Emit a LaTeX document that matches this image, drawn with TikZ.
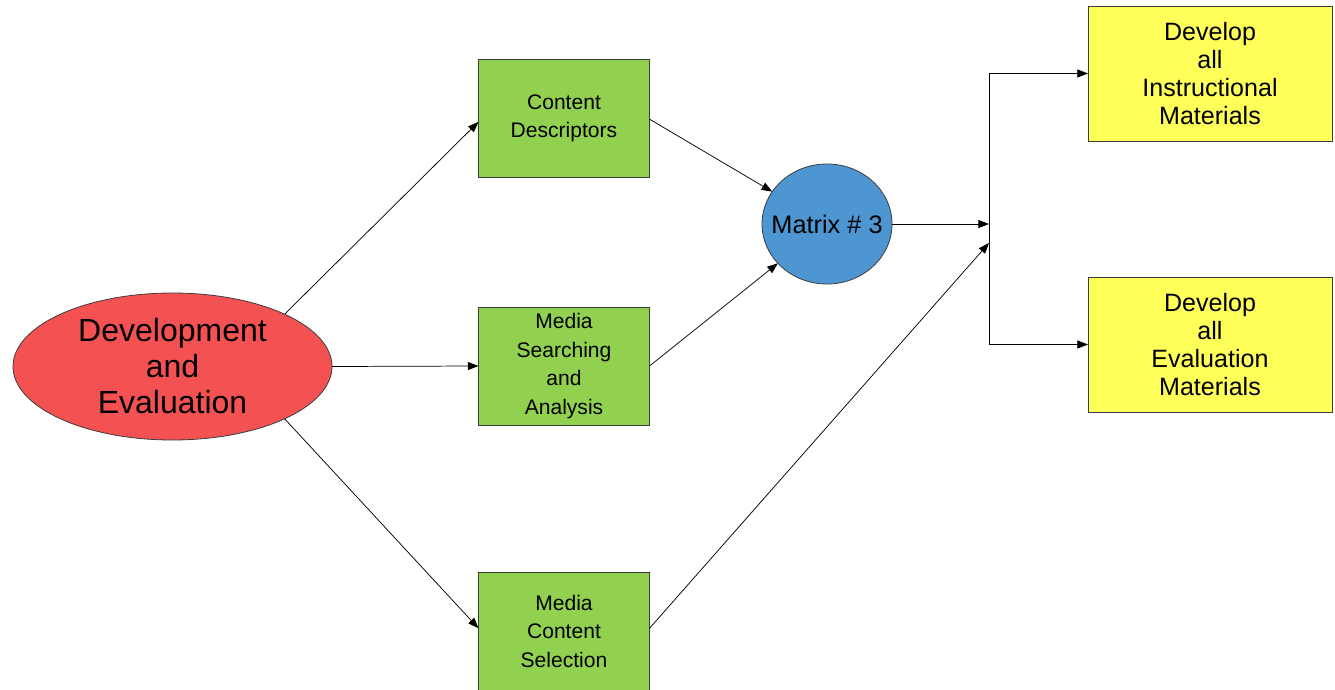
\documentclass[tikz,border=0pt]{standalone}
\usepackage{fontspec}
\setmainfont{Liberation Sans}
\usetikzlibrary{shapes.geometric,arrows.meta}
\definecolor{redfill}{RGB}{244,82,82}
\definecolor{greenfill}{RGB}{146,208,80}
\definecolor{bluefill}{RGB}{78,150,210}
\definecolor{yellowfill}{RGB}{255,255,90}
\definecolor{edgegray}{RGB}{60,60,60}
\begin{document}
\begin{tikzpicture}[x=0.75pt,y=-0.75pt,
  greenbox/.style={rectangle,draw=edgegray,line width=0.6pt,fill=greenfill,
    minimum width=128.25pt,minimum height=88.5pt,inner sep=0pt,outer sep=0pt,
    align=center,font=\fontsize{15.8}{21.4}\selectfont},
  yellowbox/.style={rectangle,draw=edgegray,line width=0.6pt,fill=yellowfill,
    minimum width=183pt,minimum height=101.25pt,inner sep=0pt,outer sep=0pt,
    align=center,font=\fontsize{18.8}{21}\selectfont},
  conn/.style={draw=black,line width=0.55pt},
  arr/.style={conn,-{Triangle[length=8pt,width=6pt]}}]
\useasboundingbox (0,0) rectangle (1335,689);
\fill[white] (0,0) rectangle (1335,689);
% nodes
\node[ellipse,draw=edgegray,line width=0.6pt,fill=redfill,minimum width=239.25pt,
  minimum height=110.25pt,inner sep=0pt,outer sep=0pt] (dev) at (172.5,366.5) {};
\node[align=center,font=\fontsize{24}{27}\selectfont] (devtext) at (dev) {Development\\and\\Evaluation};
\node[greenbox] (cd) at (564,118.5) {Content\\Descriptors};
\node[greenbox] (msa) at (564,366) {Media\\Searching\\and\\Analysis};
\node[greenbox] (mcs) at (564,631) {Media\\Content\\Selection};
\node[ellipse,draw=edgegray,line width=0.6pt,fill=bluefill,minimum width=97.5pt,
  minimum height=90pt,inner sep=0pt,outer sep=0pt] (mat) at (827,224) {};
\node[font=\fontsize{19}{21}\selectfont] (mattext) at (mat) {Matrix \# 3};
\node[yellowbox] (yi) at (1210,73.5) {Develop\\all\\Instructional\\Materials};
\node[yellowbox] (ye) at (1210,344.5) {Develop\\all\\Evaluation\\Materials};
% junction coordinates
\coordinate (j1) at (989,224);
\coordinate (j2) at (989,243);
\coordinate (jtop) at (989,73.5);
\coordinate (jbot) at (989,344.5);
% connectors
\draw[arr] (dev.25) -- ([yshift=-2.5pt]cd.west);
\draw[arr] (dev.east) -- (msa.west);
\draw[arr] (dev.-25) -- ([yshift=2pt]mcs.west);
\draw[arr] ([yshift=-0.5pt]cd.east) -- (mat);
\draw[arr] (msa.east) -- (mat);
\draw[arr] ([yshift=2pt]mcs.east) -- (j2);
\draw[arr] (mat.east) -- (j1);
\draw[conn] (jtop) -- (jbot);
\draw[arr] (jtop) -- (yi.west);
\draw[arr] (jbot) -- (ye.west);
\end{tikzpicture}
\end{document}
